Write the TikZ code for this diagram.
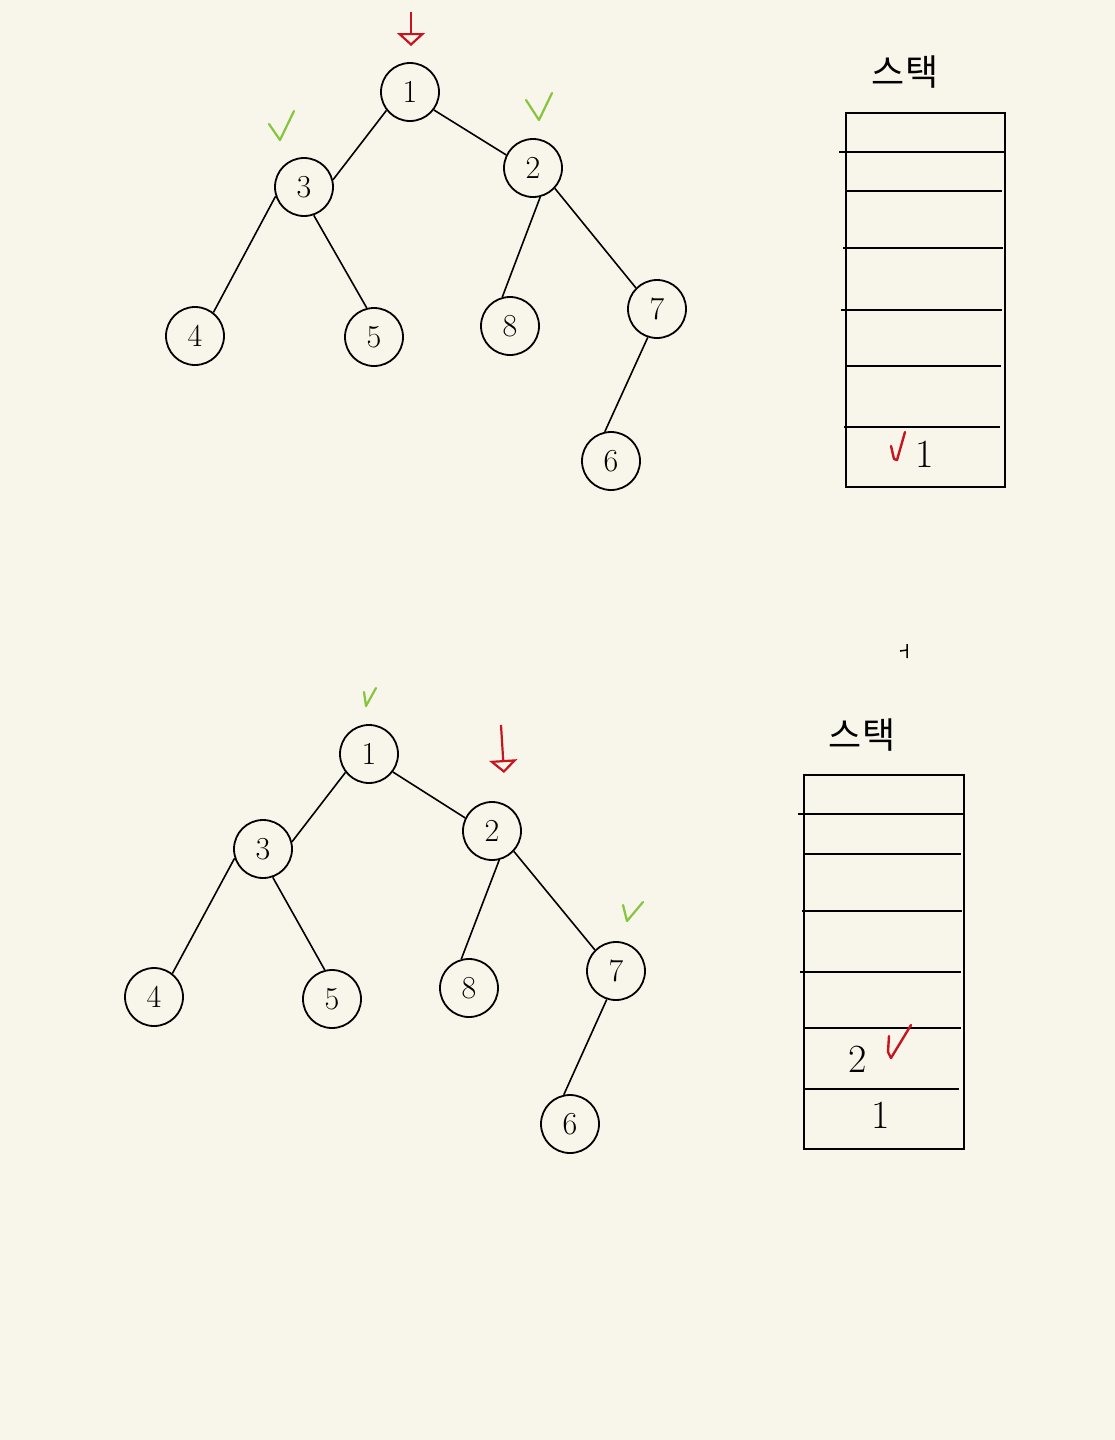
\documentclass[tikz,border=0pt]{standalone}
\usepackage{fontspec}
\newfontfamily\krfont{Noto Sans CJK KR}
\usetikzlibrary{arrows.meta}
\definecolor{paper}{HTML}{F8F6EA}
\definecolor{inkred}{HTML}{C8141E}
\definecolor{inkgreen}{HTML}{86C53E}
\tikzset{
  tnode/.style={circle, draw=black, line width=1.8pt, minimum size=58pt, inner sep=0pt, font=\fontsize{32}{34}\selectfont},
  edge/.style={draw=black, line width=1.6pt},
  stackline/.style={draw=black, line width=1.7pt},
  greencheck/.style={draw=inkgreen, line width=2.2pt, line cap=round, line join=round},
  redcheck/.style={draw=inkred, line width=2.4pt, line cap=round, line join=round},
  redarrow/.style={draw=inkred, line width=2.2pt, -{Triangle[open, length=13pt, width=28pt]}},
  stacklabel/.style={font=\krfont\fontsize{36}{38}\selectfont, inner sep=0pt},
  celltext/.style={font=\fontsize{40}{42}\selectfont, inner sep=0pt}
}
\begin{document}
\begin{tikzpicture}[x=1pt,y=-1pt]
\fill[paper] (0,0) rectangle (1115,1440);
\useasboundingbox (0,0) rectangle (1115,1440);

% ---------- top tree ----------
\node[tnode] (a1) at (410,92) {1};
\node[tnode] (a3) at (304,187) {3};
\node[tnode] (a2) at (533,168) {2};
\node[tnode] (a4) at (195,336) {4};
\node[tnode] (a5) at (374,337) {5};
\node[tnode] (a8) at (510,326) {8};
\node[tnode] (a7) at (657,309) {7};
\node[tnode] (a6) at (611,461) {6};
\draw[edge] (a1.218) -- (a3.14);
\draw[edge] (a1.323) -- (a2.154);
\draw[edge] (a3.198) -- (a4.52);
\draw[edge] (a3.289) -- (a5.104);
\draw[edge] (a2.284) -- (a8.105);
\draw[edge] (a2.317) -- (a7.135);
\draw[edge] (a7.252) -- (a6.102);

\coordinate (ar1s) at (411,12);
\coordinate (ar1e) at (411,46);
\draw[redarrow] (ar1s) -- (ar1e);
\draw[greencheck] (269,124) -- (280,140) -- (294,111);
\draw[greencheck] (526,100) -- (539,120) -- (552,93);

% top stack
\node[stacklabel] (lab1) at (905,72) {스택};
\draw[stackline] (846,113) rectangle (1005,487);
\draw[stackline] (839,152) -- (1005,152);
\draw[stackline] (846,191) -- (1002,191);
\draw[stackline] (843,248) -- (1003,248);
\draw[stackline] (841,310) -- (1002,310);
\draw[stackline] (846,366) -- (1001,366);
\draw[stackline] (844,427) -- (1000,427);
\draw[redcheck] (891,446) -- (894,459) -- (897,460) -- (905,432);
\node[celltext] (s1a) at (925,454) {1};

% stray mark
\draw[black, line width=1.5pt] (900,651) -- (907,650) (907,644) -- (907,658);

% ---------- bottom tree ----------
\node[tnode] (b1) at (369,754) {1};
\node[tnode] (b3) at (263,849) {3};
\node[tnode] (b2) at (492,831) {2};
\node[tnode] (b4) at (154,997) {4};
\node[tnode] (b5) at (332,999) {5};
\node[tnode] (b8) at (469,988) {8};
\node[tnode] (b7) at (616,971) {7};
\node[tnode] (b6) at (570,1124) {6};
\draw[edge] (b1.218) -- (b3.14);
\draw[edge] (b1.323) -- (b2.154);
\draw[edge] (b3.198) -- (b4.52);
\draw[edge] (b3.289) -- (b5.104);
\draw[edge] (b2.284) -- (b8.105);
\draw[edge] (b2.317) -- (b7.135);
\draw[edge] (b7.252) -- (b6.102);

\draw[greencheck] (364,692) -- (366,706) -- (376,688);
\coordinate (ar2s) at (501,725);
\coordinate (ar2e) at (504,773);
\draw[redarrow] (ar2s) -- (ar2e);
\draw[greencheck] (623,905) -- (627,921) -- (643,902);

% bottom stack
\node[stacklabel] (lab2) at (862,735) {스택};
\draw[stackline] (804,775) rectangle (964,1149);
\draw[stackline] (798,814) -- (964,814);
\draw[stackline] (804,854) -- (961,854);
\draw[stackline] (802,911) -- (962,911);
\draw[stackline] (800,972) -- (961,972);
\draw[stackline] (804,1028) -- (961,1028);
\draw[stackline] (804,1089) -- (959,1089);
\node[celltext] (s2b) at (858,1059) {2};
\draw[redcheck] (889,1036) -- (888,1052) -- (891,1058) -- (911,1025);
\node[celltext] (s2a) at (881,1115) {1};
\end{tikzpicture}
\end{document}
